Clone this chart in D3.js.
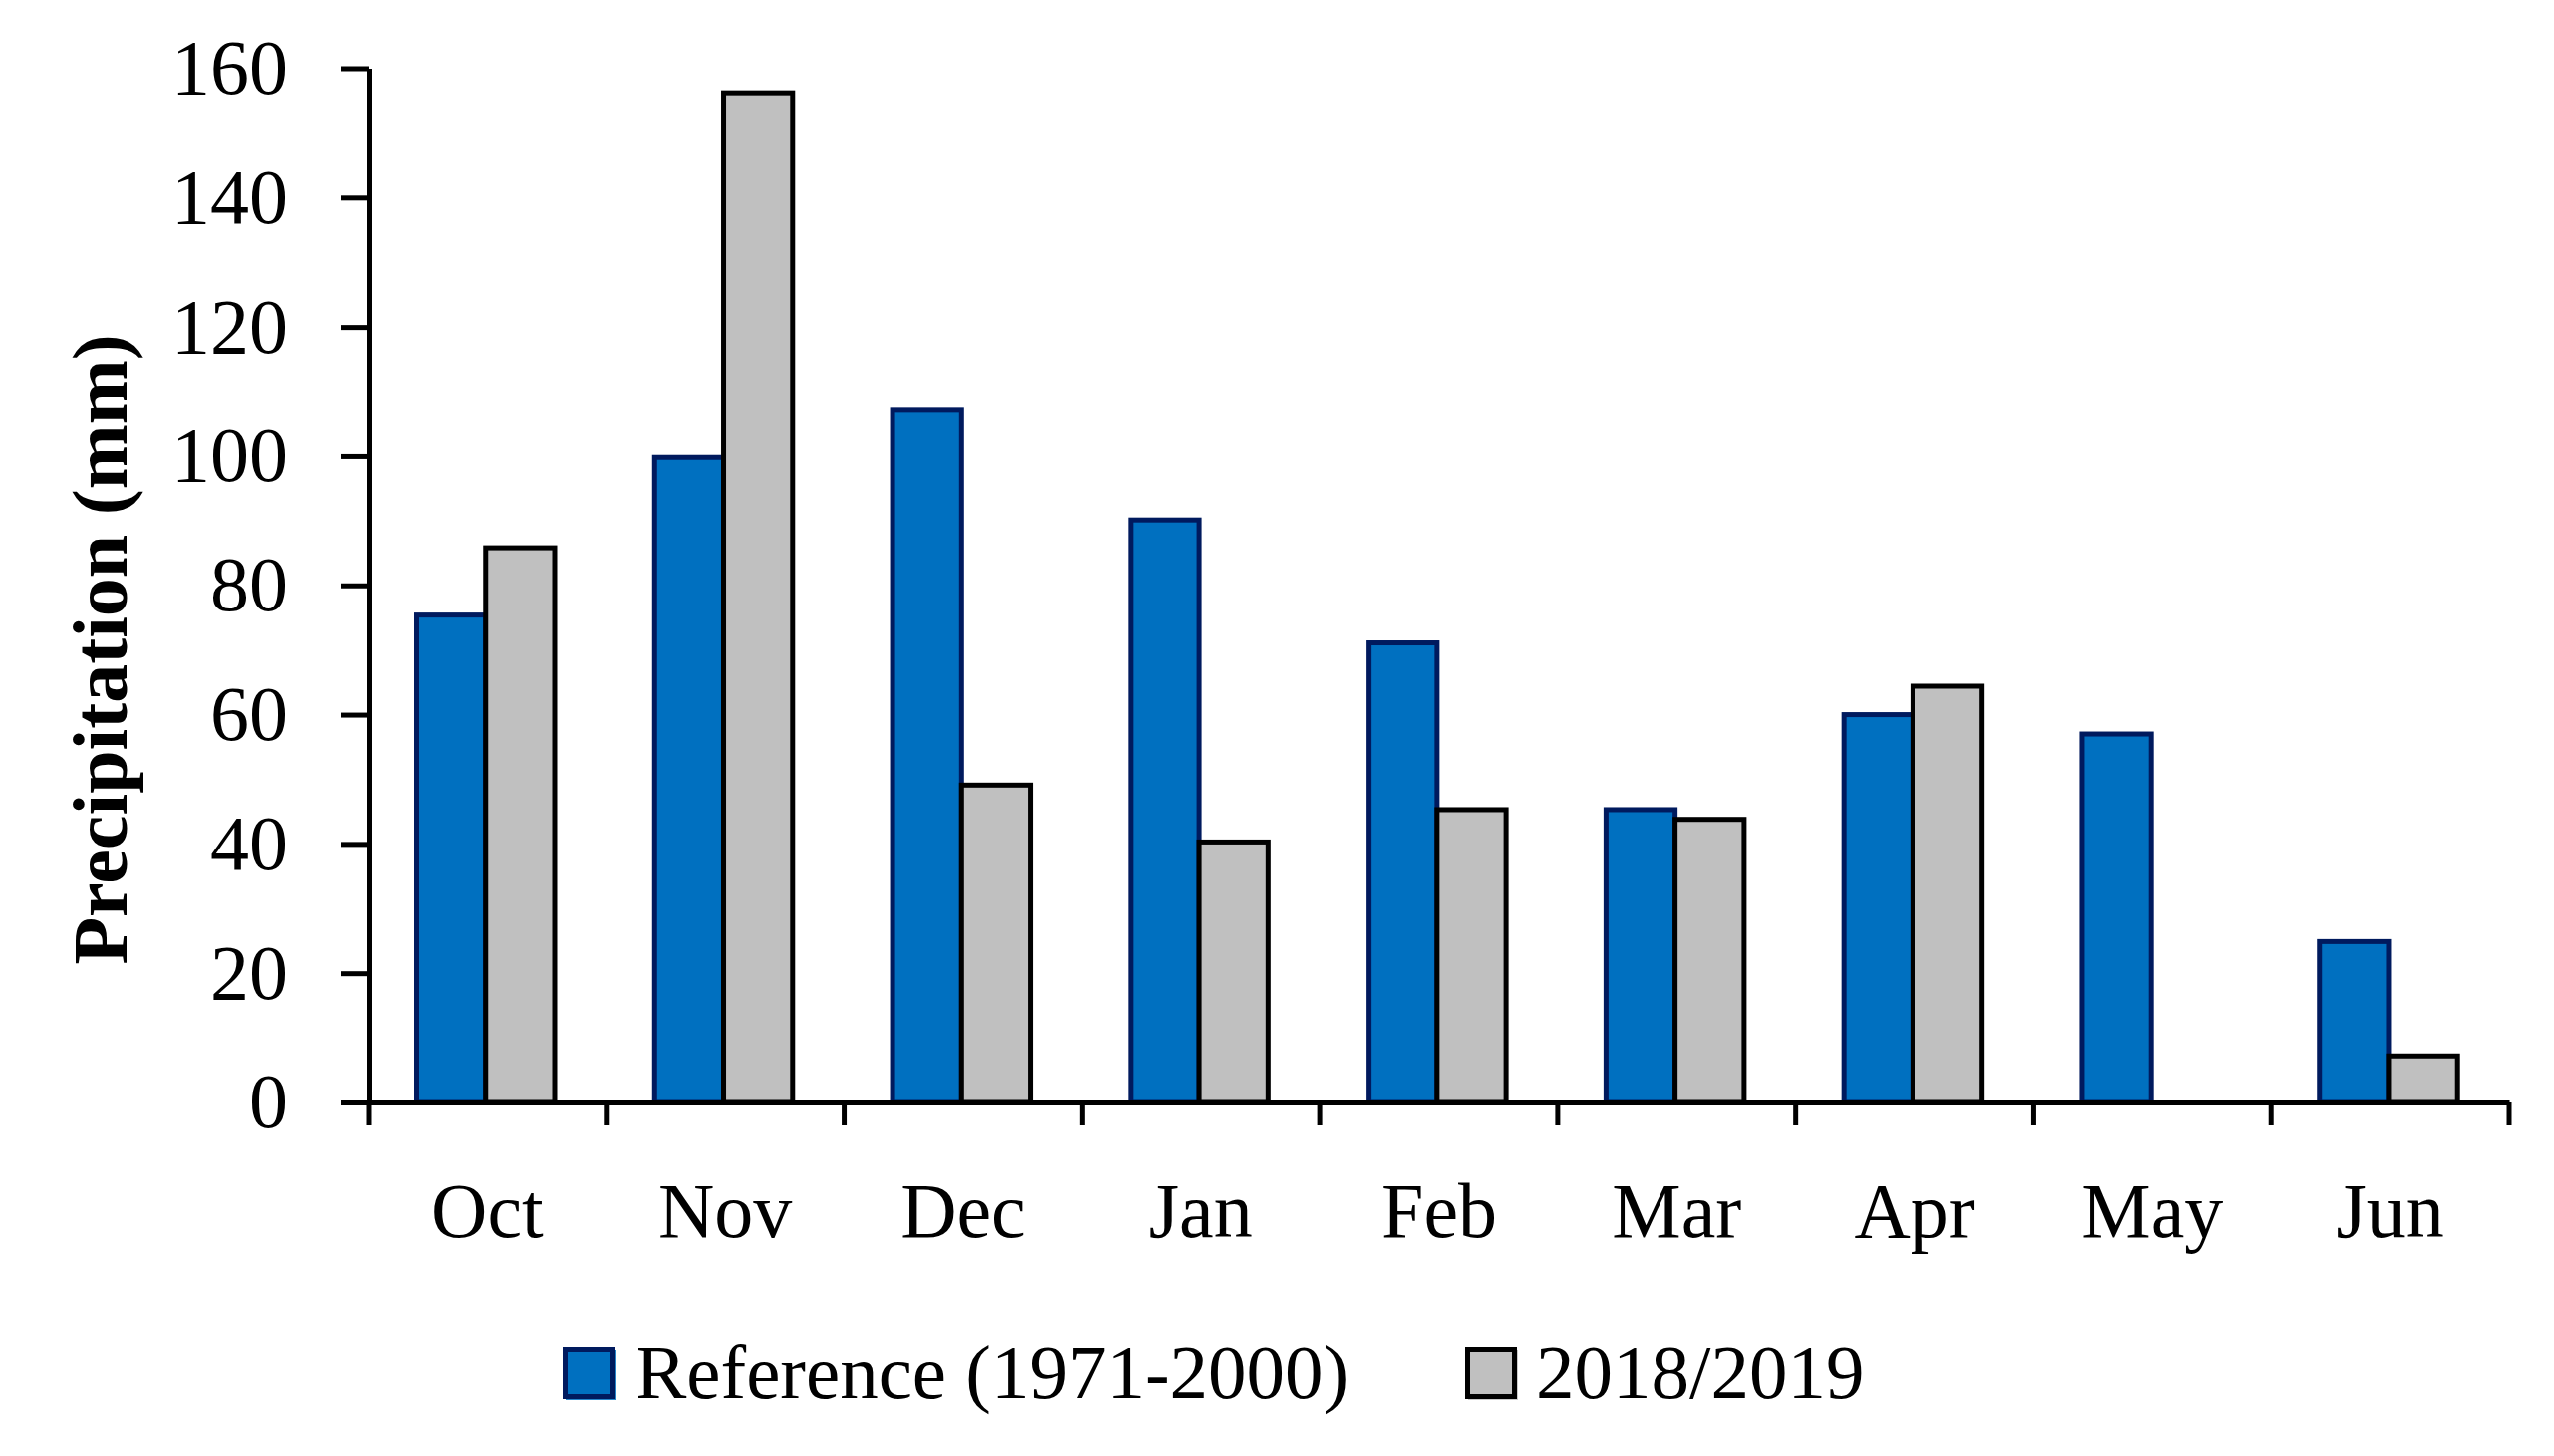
<!DOCTYPE html>
<html>
<head>
<meta charset="utf-8">
<script src="https://cdn.jsdelivr.net/npm/d3@7"></script>
<style>
  html, body { margin: 0; padding: 0; background: #ffffff; }
  svg { display: block; }
  text { font-family: "Liberation Serif", "Times New Roman", serif; fill: #000; }
</style>
</head>
<body>
<svg id="chart" width="2564" height="1462"></svg>
<script>
// ---- Data ----
const months = ["Oct", "Nov", "Dec", "Jan", "Feb", "Mar", "Apr", "May", "Jun"];
const seriesNames = ["Reference (1971-2000)", "2018/2019"];
const referenceValues = [75.4, 99.8, 107.1, 90.1, 71.1, 45.3, 60.0, 57.0, 24.9];
const season2018Values = [85.8, 156.2, 49.1, 40.3, 45.3, 43.8, 64.4, 0, 7.2];
const yTicks = [0, 20, 40, 60, 80, 100, 120, 140, 160];

const fills = ["#0070C0", "#C0C0C0"];
const strokes = ["#001A5E", "#000000"];

// ---- Layout ----
const svg = d3.select("#chart");
const plotLeft = 370, plotRight = 2519, plotTop = 68.5, plotBottom = 1107;

const x0 = d3.scaleBand().domain(months).range([plotLeft, plotRight]).paddingInner(0).paddingOuter(0);
const x1 = d3.scaleBand().domain(seriesNames).range([48.5, 187]);
const y = d3.scaleLinear().domain([0, 160]).range([plotBottom, plotTop]);

const rows = months.map((m, i) => ({ month: m, values: [referenceValues[i], season2018Values[i]] }));

// ---- Bars ----
const gBars = svg.append("g");
seriesNames.forEach((s, si) => {
  gBars.append("g").selectAll("rect")
    .data(rows.filter(r => r.values[si] > 0))
    .join("rect")
    .attr("x", d => x0(d.month) + x1(s))
    .attr("y", d => y(d.values[si]))
    .attr("width", x1.bandwidth())
    .attr("height", d => y(0) - y(d.values[si]))
    .attr("fill", fills[si])
    .attr("stroke", strokes[si])
    .attr("stroke-width", 5);
});

// ---- Y axis ----
const yAxis = d3.axisLeft(y).tickValues(yTicks).tickSize(28).tickSizeOuter(0).tickPadding(53);
const gy = svg.append("g").attr("transform", `translate(${plotLeft},0)`).call(yAxis);
gy.select(".domain").attr("stroke", "#000").attr("stroke-width", 5);
gy.selectAll(".tick line").attr("stroke", "#000").attr("stroke-width", 5);
gy.selectAll(".tick text").attr("font-size", 78).attr("font-family", "Liberation Serif").attr("fill", "#000");

// ---- X axis ----
const xAxis = d3.axisBottom(x0).tickSize(0).tickSizeOuter(0);
const gx = svg.append("g").attr("transform", `translate(0,${plotBottom})`).call(xAxis);
gx.select(".domain").attr("stroke", "#000").attr("stroke-width", 5);
gx.selectAll(".tick text")
  .attr("font-size", 78)
  .attr("font-family", "Liberation Serif")
  .attr("fill", "#000")
  .attr("y", 135)
  .attr("dy", 0);

// boundary ticks between categories
const boundaries = months.map(m => x0(m)).concat([x0.range()[1]]);
gx.append("g").selectAll("line")
  .data(boundaries)
  .join("line")
  .attr("x1", d => d).attr("x2", d => d)
  .attr("y1", 0).attr("y2", 23)
  .attr("stroke", "#000").attr("stroke-width", 5);

// ---- Y title ----
svg.append("text")
  .attr("transform", `translate(127,652) rotate(-90)`)
  .attr("text-anchor", "middle")
  .attr("font-size", 78)
  .attr("font-weight", "bold")
  .text("Precipitation (mm)");

// ---- Legend ----
const legendItems = [
  { name: seriesNames[0], sx: 565, tx: 638 },
  { name: seriesNames[1], sx: 1471, tx: 1542 }
];
const gl = svg.append("g");
legendItems.forEach((it, i) => {
  gl.append("rect")
    .attr("x", it.sx + 3).attr("y", 1356).attr("width", 50).attr("height", 50)
    .attr("fill", fills[i]).attr("opacity", 0.85);
  gl.append("rect")
    .attr("x", it.sx + 2.5).attr("y", 1355.5).attr("width", 47).attr("height", 47)
    .attr("fill", fills[i]).attr("stroke", strokes[i]).attr("stroke-width", 5);
  gl.append("text")
    .attr("x", it.tx).attr("y", 1404)
    .attr("font-size", 77)
    .text(it.name);
});
</script>
</body>
</html>
